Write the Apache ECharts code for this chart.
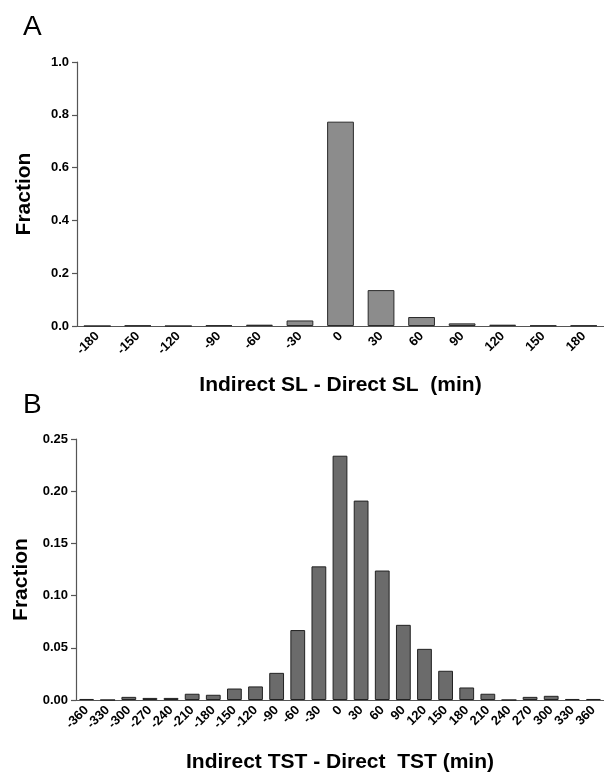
<!DOCTYPE html>
<html>
<head>
<meta charset="utf-8">
<script src="https://cdn.jsdelivr.net/npm/echarts@6/dist/echarts.min.js"></script>
<style>
  html, body { margin: 0; padding: 0; background: #fff; }
  #chart { width: 604px; height: 774px; }
</style>
</head>
<body>
<div id="chart"></div>
<script>
// panel A: sleep latency difference (min)
const slCategories = ['-180', '-150', '-120', '-90', '-60', '-30', '0', '30', '60', '90', '120', '150', '180']
const slFraction = [0, 0.002, 0, 0.003, 0.005, 0.021, 0.774, 0.136, 0.034, 0.010, 0.005, 0.002, 0.002]

// panel B: total sleep time difference (min)
const tstCategories = ['-360', '-330', '-300', '-270', '-240', '-210', '-180', '-150', '-120', '-90', '-60', '-30',
  '0', '30', '60', '90', '120', '150', '180', '210', '240', '270', '300', '330', '360']
const tstFraction = [0.001, 0, 0.003, 0.002, 0.002, 0.006, 0.005, 0.011, 0.013, 0.026, 0.067, 0.128,
  0.234, 0.191, 0.124, 0.072, 0.049, 0.028, 0.012, 0.006, 0, 0.003, 0.004, 0.001, 0.001]

const font = "'Liberation Sans', Arial, sans-serif"
const axisColor = '#555'

function xAxisFor(gridIndex, data, name, gap) {
  return {
    type: 'category',
    gridIndex,
    data,
    boundaryGap: true,
    axisLine: { lineStyle: { color: axisColor, width: 1.2 } },
    axisTick: { alignWithLabel: true, length: 6, lineStyle: { color: axisColor } },
    axisLabel: {
      rotate: 45, interval: 0, margin: 8,
      color: '#000', fontWeight: 'bold', fontSize: 13, fontFamily: font
    },
    name,
    nameLocation: 'middle',
    nameGap: gap,
    nameTextStyle: { color: '#000', fontWeight: 'bold', fontSize: 21, fontFamily: font }
  }
}

function yAxisFor(gridIndex, max, interval, digits, shift) {
  return {
    type: 'value',
    gridIndex,
    min: 0,
    max,
    interval,
    splitLine: { show: false },
    axisLine: { show: true, lineStyle: { color: axisColor, width: 1.2 } },
    axisTick: { show: true, inside: false, length: 5, lineStyle: { color: axisColor, width: 1.2 } },
    axisLabel: {
      formatter: v => v.toFixed(digits),
      margin: 8,
      color: '#000', fontWeight: 'bold', fontSize: 13, fontFamily: font
    },
    name: 'Fraction',
    nameLocation: 'middle',
    nameGap: 42,
    nameTextStyle: {
      color: '#000', fontWeight: 'bold', fontSize: 21, fontFamily: font,
      padding: [0, shift, 0, 0]
    }
  }
}

const chart = echarts.init(document.getElementById('chart'), null, { renderer: 'canvas' })

chart.setOption({
  animation: false,
  backgroundColor: '#fff',
  textStyle: { fontFamily: font },
  title: [
    { text: 'A', left: 18, top: 8, textStyle: { fontSize: 28, fontWeight: 'normal', color: '#000', fontFamily: font } },
    { text: 'B', left: 18, top: 386, textStyle: { fontSize: 28, fontWeight: 'normal', color: '#000', fontFamily: font } }
  ],
  grid: [
    { left: 77, top: 62, width: 529, height: 264 },
    { left: 76, top: 439, width: 528, height: 262 }
  ],
  xAxis: [
    xAxisFor(0, slCategories, 'Indirect SL - Direct SL  (min)', 49),
    xAxisFor(1, tstCategories, 'Indirect TST - Direct  TST (min)', 52)
  ],
  yAxis: [
    yAxisFor(0, 1.0, 0.2, 1, 0),
    yAxisFor(1, 0.25, 0.05, 2, 20)
  ],
  series: [
    {
      type: 'bar', xAxisIndex: 0, yAxisIndex: 0, data: slFraction,
      barWidth: '66%',
      itemStyle: { color: '#8c8c8c', borderColor: '#2a2a2a', borderWidth: 1 }
    },
    {
      type: 'bar', xAxisIndex: 1, yAxisIndex: 1, data: tstFraction,
      barWidth: '70%',
      itemStyle: { color: '#6b6b6b', borderColor: '#222', borderWidth: 1 }
    }
  ]
})
</script>
</body>
</html>
